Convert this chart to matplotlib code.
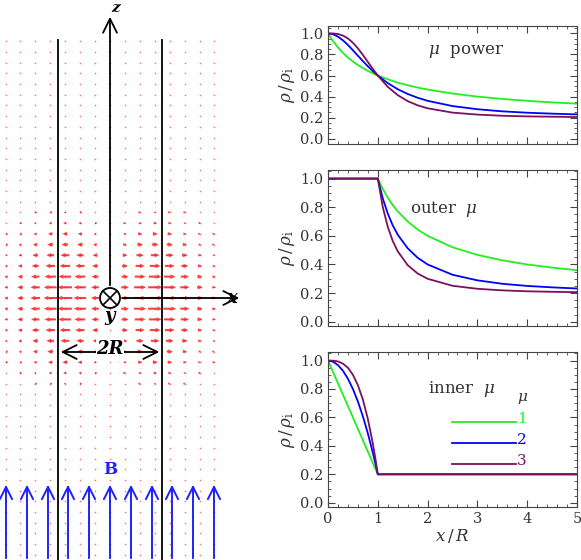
import numpy as np
import matplotlib
matplotlib.use("Agg")
import matplotlib.pyplot as plt
from matplotlib.ticker import MultipleLocator

plt.rcParams['font.family'] = ['DejaVu Serif']
plt.rcParams['mathtext.fontset'] = 'dejavuserif'

# ---- data: right panels ----
x_pow = [0, 0.1, 0.2, 0.3, 0.4, 0.5, 0.6, 0.7, 0.8, 0.9, 1.0, 1.2, 1.4, 1.6, 1.8, 2.0, 2.5, 3, 3.5, 4, 4.5, 5]
pow_mu1 = [1, 0.927, 0.867, 0.815, 0.771, 0.733, 0.70, 0.671, 0.644, 0.621, 0.60, 0.564, 0.533, 0.508, 0.486, 0.467, 0.429, 0.40, 0.378, 0.36, 0.345, 0.333]
pow_mu2 = [1, 0.992, 0.969, 0.934, 0.890, 0.84, 0.788, 0.737, 0.688, 0.642, 0.60, 0.528, 0.47, 0.425, 0.389, 0.36, 0.31, 0.28, 0.26, 0.247, 0.238, 0.231]
pow_mu3 = [1, 0.999, 0.994, 0.979, 0.952, 0.911, 0.858, 0.796, 0.729, 0.663, 0.60, 0.493, 0.414, 0.357, 0.317, 0.289, 0.248, 0.229, 0.218, 0.212, 0.209, 0.206]

x_out = [0, 1.0, 1.1, 1.2, 1.3, 1.4, 1.6, 1.8, 2.0, 2.5, 3, 3.5, 4, 4.5, 5]
out_mu1 = [1, 1, 0.927, 0.867, 0.815, 0.771, 0.70, 0.644, 0.60, 0.52, 0.467, 0.429, 0.40, 0.378, 0.36]
out_mu2 = [1, 1, 0.861, 0.756, 0.673, 0.608, 0.513, 0.447, 0.40, 0.328, 0.289, 0.265, 0.25, 0.240, 0.232]
out_mu3 = [1, 1, 0.801, 0.663, 0.564, 0.492, 0.395, 0.337, 0.30, 0.251, 0.230, 0.219, 0.2125, 0.209, 0.2064]

x_in = [0, 0.1, 0.2, 0.3, 0.4, 0.5, 0.6, 0.7, 0.8, 0.9, 0.95, 1.0, 5]
in_mu1 = [1, 0.92, 0.84, 0.76, 0.68, 0.60, 0.52, 0.44, 0.36, 0.28, 0.24, 0.2, 0.2]
in_mu2 = [1, 0.992, 0.968, 0.928, 0.872, 0.80, 0.712, 0.608, 0.488, 0.352, 0.278, 0.2, 0.2]
in_mu3 = [1, 0.999, 0.994, 0.978, 0.949, 0.90, 0.827, 0.726, 0.590, 0.417, 0.314, 0.2, 0.2]

mu_labels = ['1', '2', '3']
colors = ['#22ee22', '#0000ff', '#7a1060']
xtick_labels = ['0', '1', '2', '3', '4', '5']
ytick_labels = ['0.0', '0.2', '0.4', '0.6', '0.8', '1.0']

# ---- data: left schematic field (pixel-space drawing) ----
col_xR = [-2.0, -1.73, -1.44, -1.15, -0.87, -0.58, -0.29, 0.0, 0.29, 0.58, 0.87, 1.15, 1.44, 1.73, 2.0]
col_amp = [0.25, 0.4, 0.65, 0.9, 1.0, 0.85, 0.55, 0.0, 0.55, 0.85, 1.0, 0.9, 0.65, 0.4, 0.25]
row_amp = [1, 0.95, 0.85, 0.72, 0.58, 0.45, 0.33, 0.22, 0.14, 0.08, 0.05, 0.03, 0.02]
b_cols = [6, 27, 48, 68, 89, 110, 131, 152, 172, 193, 214]

W, H = 581, 560
fig = plt.figure(figsize=(W/100, H/100), dpi=100)

# ---- left panel ----
axL = fig.add_axes([0, 0, 260/W, 1])
axL.set_xlim(0, 260); axL.set_ylim(560, 0); axL.axis('off')
cx, cz, R = 110, 298, 52
dz = 10.7
rows = np.arange(-24, 25)
X, Y, U = [], [], []
for k in rows:
    ra = row_amp[abs(k)] if abs(k) < len(row_amp) else 0.005
    for xr, ca in zip(col_xR, col_amp):
        X.append(cx + xr*R); Y.append(cz + k*dz); U.append(np.sign(xr)*ca*ra*15)
X, Y, U = map(np.array, (X, Y, U))
axL.scatter(X, Y, s=1.5, color='red', alpha=0.55, lw=0)
big = np.abs(U) > 1.2
axL.quiver(X[big] - U[big]/2, Y[big], U[big], np.zeros(big.sum()), color='red', alpha=0.75,
           angles='xy', scale_units='xy', scale=1, width=0.008, headwidth=2.2, headlength=2.5, headaxislength=2.2)
for xx in (cx - R, cx + R):
    axL.plot([xx, xx], [40, 560], color='black', lw=1.3)
axL.annotate('', xy=(cx, 14), xytext=(cx, cz - 10),
             arrowprops=dict(arrowstyle='->', lw=1.3, color='black', mutation_scale=25))
axL.annotate('', xy=(242, cz), xytext=(cx + 10, cz),
             arrowprops=dict(arrowstyle='->', lw=1.3, color='black', mutation_scale=25))
axL.text(cx + 6, 1.5, 'z', fontsize=11, fontweight='bold', style='italic', ha='center', va='top')
axL.text(232, 298, 'x', fontsize=13, fontweight='bold', style='italic', ha='center', va='center')
circ = plt.Circle((cx, cz), 10, fill=False, color='black', lw=1.3)
axL.add_patch(circ)
d = 10/np.sqrt(2)
axL.plot([cx-d, cx+d], [cz-d, cz+d], color='black', lw=1.2)
axL.plot([cx-d, cx+d], [cz+d, cz-d], color='black', lw=1.2)
axL.text(cx, 316, 'y', fontsize=13, fontweight='bold', style='italic', ha='center', va='center')
axL.annotate('', xy=(cx - R, 352), xytext=(cx + R, 352),
             arrowprops=dict(arrowstyle='<->', lw=1.3, color='black', mutation_scale=25))
axL.text(cx, 349, '2R', fontsize=13, fontweight='bold', style='italic', ha='center', va='center',
         bbox=dict(facecolor='white', edgecolor='none', pad=0.5))
for bx in b_cols:
    axL.annotate('', xy=(bx, 482), xytext=(bx, 561),
                 arrowprops=dict(arrowstyle='->', lw=1.4, color='#2020ff', mutation_scale=22))
axL.text(cx, 469, 'B', fontsize=12, fontweight='bold', color='#2020ff', ha='center', va='center')

# ---- right panels ----
left = 328/W; width = (577-328)/W
boxes = [(26, 144), (170, 326), (352, 507)]
axes = []
for t, b in boxes:
    axes.append(fig.add_axes([left, 1 - b/H, width, (b - t)/H]))

datasets = [(x_pow, [pow_mu1, pow_mu2, pow_mu3]),
            (x_out, [out_mu1, out_mu2, out_mu3]),
            (x_in, [in_mu1, in_mu2, in_mu3])]
ylims = [(-0.05, 1.07), (-0.03, 1.06), (-0.03, 1.06)]
for ax, (xs, ys), yl in zip(axes, datasets, ylims):
    for yy, c in zip(ys, colors):
        ax.plot(xs, yy, color=c, lw=1.3)
    ax.set_xlim(0, 5); ax.set_ylim(*yl)
    ax.set_xticks([0, 1, 2, 3, 4, 5])
    ax.xaxis.set_minor_locator(MultipleLocator(0.2))
    ax.set_yticks([0, 0.2, 0.4, 0.6, 0.8, 1.0])
    ax.yaxis.set_minor_locator(MultipleLocator(0.05))
    ax.tick_params(which='both', direction='in', top=True, right=True, labelsize=10.5, color='#444444')
    ax.tick_params(which='major', length=5)
    ax.tick_params(which='minor', length=2.5)
    ax.set_yticklabels(ytick_labels, color='#333333')
    ax.set_ylabel(r'$\rho\,/\,\rho_{\rm i}$', fontsize=12, color='#333333', labelpad=2)
    for s in ax.spines.values():
        s.set_color('#444444')
    if ax is not axes[2]:
        ax.set_xticklabels([])
axes[2].set_xticklabels(xtick_labels, color='#333333')
axes[2].set_xlabel(r'$x\,/\,R$', fontsize=12, color='#333333', labelpad=1)

axes[0].text(2.0, 0.83, r'$\mu$  power', fontsize=12, color='#333333', ha='left', va='center')
axes[1].text(1.65, 0.79, r'outer  $\mu$', fontsize=12, color='#333333', ha='left', va='center')
axes[2].text(2.0, 0.80, r'inner  $\mu$', fontsize=12, color='#333333', ha='left', va='center')
axes[2].text(3.8, 0.73, r'$\mu$', fontsize=11, color='#333333', ha='left', va='center')
for i, (c, lab) in enumerate(zip(colors, mu_labels)):
    yv = 0.57 - 0.15*i
    axes[2].plot([2.5, 3.78], [yv, yv], color=c, lw=1.3)
    axes[2].text(3.8, yv + 0.02, lab, color=c, fontsize=11, ha='left', va='center')

fig.savefig('out.png', dpi=100)
